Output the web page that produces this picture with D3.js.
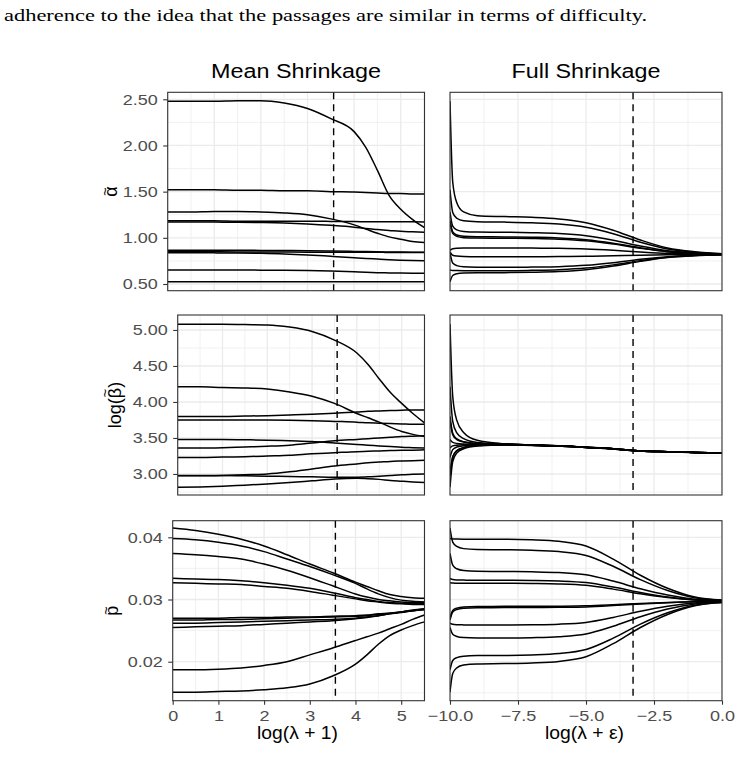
<!DOCTYPE html>
<html>
<head>
<meta charset="utf-8">
<script src="https://cdn.jsdelivr.net/npm/d3@7"></script>
<style>
  body { margin: 0; background: #fff; }
  text { font-family: "Liberation Sans", Arial, Helvetica, sans-serif; }
</style>
</head>
<body>
<div id="chart"></div>
<script>
// Canvas
const WIDTH = 737, HEIGHT = 758;
const STRETCH = 1.2; // the figure's text is a bit wider than the plain font

// x grids (read positions) for the two columns
const xMean = [0, 0.5, 1, 1.5, 2, 2.5, 3, 3.5, 4, 4.25, 4.5, 4.75, 5, 5.25, 5.51];
const xFull = [-10, -9.9, -9.75, -9.5, -9, -8, -7, -6, -5, -4, -3, -2, -1, 0];

// chosen lambda (dashed lines)
const cutMean = 3.56;
const cutFull = -3.27;

// tick values
const meanTicks = [0, 1, 2, 3, 4, 5];
const fullTicks = [-10, -7.5, -5, -2.5, 0];
const alphaTicks = [0.5, 1, 1.5, 2, 2.5];
const betaTicks = [3, 3.5, 4, 4.5, 5];
const pTicks = [0.02, 0.03, 0.04];

// alpha, mean shrinkage
const alphaMean = [
  [2.48, 2.48, 2.48, 2.485, 2.485, 2.46, 2.40, 2.29, 2.15, 1.98, 1.73, 1.46, 1.31, 1.20, 1.11],
  [1.52, 1.52, 1.52, 1.515, 1.515, 1.51, 1.51, 1.50, 1.495, 1.49, 1.485, 1.48, 1.48, 1.475, 1.475],
  [1.28, 1.28, 1.285, 1.285, 1.28, 1.27, 1.25, 1.205, 1.14, 1.095, 1.05, 1.01, 0.985, 0.96, 0.95],
  [1.185, 1.185, 1.185, 1.18, 1.18, 1.18, 1.18, 1.178, 1.176, 1.175, 1.175, 1.174, 1.173, 1.173, 1.172],
  [1.17, 1.17, 1.17, 1.168, 1.165, 1.16, 1.15, 1.135, 1.115, 1.10, 1.09, 1.08, 1.07, 1.065, 1.06],
  [0.865, 0.865, 0.865, 0.865, 0.864, 0.862, 0.86, 0.857, 0.853, 0.851, 0.849, 0.847, 0.846, 0.845, 0.845],
  [0.848, 0.848, 0.848, 0.847, 0.847, 0.846, 0.845, 0.845, 0.844, 0.843, 0.843, 0.842, 0.842, 0.841, 0.841],
  [0.838, 0.838, 0.837, 0.835, 0.832, 0.826, 0.815, 0.80, 0.785, 0.777, 0.77, 0.763, 0.758, 0.754, 0.751],
  [0.652, 0.652, 0.652, 0.651, 0.65, 0.648, 0.645, 0.64, 0.632, 0.627, 0.623, 0.62, 0.618, 0.617, 0.616],
  [0.525, 0.525, 0.525, 0.525, 0.525, 0.525, 0.525, 0.525, 0.524, 0.524, 0.524, 0.524, 0.524, 0.524, 0.524]
];

// alpha, full shrinkage
const alphaFull = [
  [2.48, 1.605, 1.38, 1.28, 1.24, 1.23, 1.222, 1.205, 1.164, 1.082, 0.976, 0.89, 0.849, 0.828],
  [1.52, 1.275, 1.212, 1.184, 1.174, 1.17, 1.163, 1.149, 1.114, 1.044, 0.953, 0.88, 0.845, 0.827],
  [1.28, 1.126, 1.086, 1.069, 1.062, 1.06, 1.055, 1.046, 1.022, 0.974, 0.911, 0.861, 0.837, 0.825],
  [1.185, 1.063, 1.031, 1.017, 1.012, 1.01, 1.006, 0.999, 0.98, 0.942, 0.892, 0.852, 0.833, 0.824],
  [1.17, 1.048, 1.016, 1.002, 0.997, 0.995, 0.992, 0.985, 0.967, 0.932, 0.887, 0.85, 0.832, 0.824],
  [0.865, 0.882, 0.887, 0.889, 0.89, 0.89, 0.889, 0.886, 0.879, 0.865, 0.847, 0.832, 0.825, 0.821],
  [0.848, 0.811, 0.802, 0.798, 0.796, 0.796, 0.796, 0.797, 0.80, 0.805, 0.811, 0.816, 0.818, 0.82],
  [0.838, 0.727, 0.699, 0.686, 0.682, 0.68, 0.683, 0.688, 0.702, 0.73, 0.767, 0.796, 0.81, 0.817],
  [0.652, 0.646, 0.645, 0.644, 0.644, 0.644, 0.648, 0.655, 0.672, 0.707, 0.753, 0.79, 0.808, 0.816],
  [0.525, 0.592, 0.611, 0.619, 0.622, 0.623, 0.627, 0.635, 0.655, 0.694, 0.745, 0.786, 0.806, 0.816]
];

// log(beta), mean shrinkage
const betaMean = [
  [5.08, 5.08, 5.08, 5.075, 5.07, 5.04, 4.98, 4.86, 4.68, 4.52, 4.32, 4.13, 3.98, 3.84, 3.71],
  [4.21, 4.21, 4.20, 4.195, 4.18, 4.14, 4.08, 3.98, 3.84, 3.78, 3.72, 3.65, 3.59, 3.55, 3.52],
  [3.80, 3.80, 3.80, 3.805, 3.81, 3.82, 3.83, 3.845, 3.86, 3.87, 3.875, 3.88, 3.885, 3.89, 3.89],
  [3.75, 3.75, 3.75, 3.75, 3.748, 3.745, 3.74, 3.73, 3.72, 3.71, 3.705, 3.70, 3.695, 3.69, 3.69],
  [3.48, 3.48, 3.48, 3.475, 3.47, 3.46, 3.45, 3.43, 3.41, 3.40, 3.39, 3.38, 3.37, 3.365, 3.36],
  [3.36, 3.36, 3.365, 3.375, 3.385, 3.40, 3.43, 3.46, 3.48, 3.49, 3.50, 3.51, 3.52, 3.525, 3.53],
  [3.23, 3.23, 3.235, 3.24, 3.25, 3.26, 3.28, 3.295, 3.31, 3.315, 3.32, 3.325, 3.33, 3.33, 3.335],
  [2.975, 2.975, 2.98, 2.99, 3.00, 3.03, 3.07, 3.11, 3.14, 3.155, 3.165, 3.175, 3.18, 3.185, 3.19],
  [2.98, 2.98, 2.98, 2.975, 2.97, 2.965, 2.96, 2.955, 2.955, 2.96, 2.97, 2.98, 2.99, 2.995, 3.0],
  [2.815, 2.82, 2.83, 2.845, 2.86, 2.88, 2.905, 2.93, 2.94, 2.935, 2.925, 2.91, 2.90, 2.89, 2.88]
];

// log(beta), full shrinkage
const betaFull = [
  [5.08, 4.08, 3.744, 3.577, 3.468, 3.42, 3.404, 3.392, 3.372, 3.351, 3.321, 3.31, 3.30, 3.29],
  [4.21, 3.73, 3.57, 3.49, 3.438, 3.418, 3.403, 3.392, 3.371, 3.351, 3.321, 3.31, 3.30, 3.29],
  [3.80, 3.566, 3.488, 3.449, 3.424, 3.414, 3.402, 3.391, 3.371, 3.35, 3.32, 3.31, 3.30, 3.29],
  [3.75, 3.546, 3.478, 3.444, 3.422, 3.413, 3.402, 3.391, 3.37, 3.35, 3.32, 3.31, 3.30, 3.29],
  [3.48, 3.438, 3.424, 3.417, 3.412, 3.41, 3.40, 3.39, 3.37, 3.35, 3.32, 3.31, 3.30, 3.29],
  [3.36, 3.39, 3.40, 3.405, 3.408, 3.41, 3.40, 3.39, 3.37, 3.35, 3.32, 3.31, 3.30, 3.29],
  [3.23, 3.338, 3.374, 3.392, 3.404, 3.408, 3.399, 3.389, 3.369, 3.349, 3.319, 3.309, 3.299, 3.289],
  [2.975, 3.236, 3.323, 3.366, 3.395, 3.406, 3.398, 3.389, 3.369, 3.349, 3.319, 3.309, 3.299, 3.289],
  [2.98, 3.238, 3.324, 3.367, 3.395, 3.406, 3.398, 3.388, 3.368, 3.348, 3.318, 3.308, 3.298, 3.288],
  [2.815, 3.172, 3.291, 3.35, 3.389, 3.404, 3.397, 3.388, 3.368, 3.348, 3.318, 3.308, 3.298, 3.288]
];

// p, mean shrinkage
const pMean = [
  [.0415, .0411, .0405, .0397, .0386, .0372, .0357, .0343, .0328, .0321, .0314, .0308, .0305, .0303, .0302],
  [.0398, .0396, .0392, .0386, .0377, .0365, .0353, .0340, .0326, .0317, .0309, .0303, .0299, .0297, .0296],
  [.0374, .0372, .0369, .0365, .0357, .0347, .0335, .0322, .0309, .0304, .0300, .0298, .0296, .0295, .0295],
  [.0334, .0333, .0332, .0330, .0327, .0323, .0318, .0311, .0303, .0300, .0297, .0295, .0294, .0293, .0293],
  [.0327, .0326, .0325, .0324, .0321, .0318, .0313, .0307, .0301, .0298, .0296, .0294, .0293, .0292, .0292],
  [.0270, .0270, .0270, .0271, .0271, .0272, .0272, .0273, .0274, .0275, .0277, .0278, .0280, .0282, .0284],
  [.0267, .0267, .0268, .0268, .0269, .0270, .0271, .0272, .0273, .0274, .0276, .0278, .0280, .0282, .0284],
  [.0262, .0262, .0263, .0264, .0265, .0266, .0267, .0268, .0270, .0272, .0274, .0277, .0279, .0282, .0284],
  [.0255, .0256, .0257, .0258, .0260, .0262, .0264, .0266, .0269, .0271, .0274, .0277, .0280, .0283, .0285],
  [.0187, .0187, .0188, .0190, .0194, .0200, .0211, .0222, .0234, .0240, .0246, .0253, .0260, .0268, .0275],
  [.0151, .0151, .0152, .0153, .0155, .0158, .0164, .0177, .0196, .0211, .0228, .0242, .0251, .0258, .0264]
];

// p, full shrinkage
const pFull = [
  [.0415, .03923, .03853, .03818, .03804, .0380, .03792, .03771, .03709, .03534, .03319, .03144, .03028, .02987],
  [.0398, .03974, .03972, .0397, .0397, .0397, .0396, .03935, .0386, .0365, .0339, .0318, .0304, .0299],
  [.0374, .03552, .03494, .03465, .03453, .0345, .03445, .03433, .03397, .03296, .03172, .03071, .03004, .0298],
  [.0334, .03321, .03315, .03312, .0331, .0331, .03307, .03298, .03273, .03201, .03113, .03041, .02994, .02977],
  [.0327, .03264, .03262, .0326, .0326, .0326, .03257, .0325, .03228, .03167, .03092, .03031, .0299, .02976],
  [.0270, .02824, .02862, .02881, .02888, .0289, .02891, .02893, .02899, .02916, .02936, .02953, .02964, .02968],
  [.0267, .0280, .0284, .0286, .02868, .0287, .02871, .02874, .02881, .02902, .02928, .02949, .02963, .02968],
  [.0262, .02601, .02595, .02592, .0259, .0259, .02594, .02603, .02632, .02712, .0281, .0289, .02943, .02962],
  [.0255, .0244, .02406, .02389, .02382, .0238, .02386, .02401, .02445, .02569, .02722, .02846, .02929, .02958],
  [.0187, .0202, .02066, .02089, .02098, .021, .02109, .0213, .02196, .02378, .02605, .02787, .02909, .02953],
  [.0151, .01809, .01901, .01947, .01965, .0197, .0198, .02005, .0208, .0229, .0255, .0276, .029, .0295]
];

// layout of the three rows (pixel boxes measured from the figure)
// label: [text before, letter under the tilde, text after, tilde lift]
const rows = [
  { top: 92.3, bottom: 290.7, left: 167.7, domain: [0.4274, 2.5758], ticks: alphaTicks, label: ["", "\u03B1", "", 7.5], labelX: 117, mean: alphaMean, full: alphaFull },
  { top: 315, bottom: 495, left: 177.7, domain: [2.708, 5.208], ticks: betaTicks, label: ["log(", "\u03B2", ")", 11.5], labelX: 121, mean: betaMean, full: betaFull },
  { top: 520.7, bottom: 700.7, left: 172.7, domain: [0.01373, 0.04267], ticks: pTicks, label: ["", "p", "", 7.5], labelX: 118, mean: pMean, full: pFull }
];
const MEAN_RIGHT = 424.5, FULL_LEFT = 450, FULL_RIGHT = 722;

const svg = d3.select("#chart").append("svg")
  .attr("width", WIDTH).attr("height", HEIGHT)
  .style("background", "#fff");
const defs = svg.append("defs");

function stretch(sel, k) {
  sel.each(function () {
    const len = this.getComputedTextLength();
    d3.select(this).attr("textLength", len * k).attr("lengthAdjust", "spacingAndGlyphs");
  });
}

// running text above the figure
svg.append("text")
  .attr("x", 4).attr("y", 21)
  .style("font-family", '"Liberation Serif", "DejaVu Serif", serif')
  .attr("font-size", 17.5)
  .attr("textLength", 643).attr("lengthAdjust", "spacingAndGlyphs")
  .text("adherence to the idea that the passages are similar in terms of difficulty.");

// column titles
svg.append("text").attr("x", 296).attr("y", 77.5).attr("text-anchor", "middle")
  .attr("font-size", 19.5).attr("textLength", 170).attr("lengthAdjust", "spacingAndGlyphs").text("Mean Shrinkage");
svg.append("text").attr("x", 586).attr("y", 77.5).attr("text-anchor", "middle")
  .attr("font-size", 19.5).attr("textLength", 149).attr("lengthAdjust", "spacingAndGlyphs").text("Full Shrinkage");

function minorOf(ticks, domain) {
  const step = ticks[1] - ticks[0];
  const out = [];
  for (let v = ticks[0] - step / 2; v <= domain[1] + 1e-9; v += step) {
    if (v >= domain[0] - 1e-9) out.push(v);
  }
  return out;
}

let clipId = 0;
function drawPanel(x, y, xs, series, xTicks, yTicks, cut) {
  const [x0, x1] = x.range();
  const [y0, y1] = y.range();
  const g = svg.append("g");
  const id = "clip" + (clipId++);
  defs.append("clipPath").attr("id", id).append("rect")
    .attr("x", x0).attr("y", y1).attr("width", x1 - x0).attr("height", y0 - y1);

  // grid, minor then major
  const grid = g.append("g").attr("stroke", "#EBEBEB").attr("clip-path", `url(#${id})`);
  grid.selectAll(".vmin").data(minorOf(xTicks, x.domain())).join("line").attr("class", "vmin")
    .attr("x1", d => x(d)).attr("x2", d => x(d)).attr("y1", y1).attr("y2", y0).attr("stroke-width", 0.7);
  grid.selectAll(".hmin").data(minorOf(yTicks, y.domain())).join("line").attr("class", "hmin")
    .attr("y1", d => y(d)).attr("y2", d => y(d)).attr("x1", x0).attr("x2", x1).attr("stroke-width", 0.7);
  grid.selectAll(".vmaj").data(xTicks).join("line").attr("class", "vmaj")
    .attr("x1", d => x(d)).attr("x2", d => x(d)).attr("y1", y1).attr("y2", y0).attr("stroke-width", 1.3);
  grid.selectAll(".hmaj").data(yTicks).join("line").attr("class", "hmaj")
    .attr("y1", d => y(d)).attr("y2", d => y(d)).attr("x1", x0).attr("x2", x1).attr("stroke-width", 1.3);

  // lines
  const line = d3.line().curve(d3.curveMonotoneX).x((d, i) => x(xs[i])).y(d => y(d));
  g.append("g").attr("clip-path", `url(#${id})`)
    .selectAll("path").data(series).join("path")
    .attr("d", line).attr("fill", "none").attr("stroke", "#000").attr("stroke-width", 1.5);

  // chosen lambda
  g.append("line").attr("x1", x(cut)).attr("x2", x(cut)).attr("y1", y1).attr("y2", y0)
    .attr("stroke", "#000").attr("stroke-width", 1.4).attr("stroke-dasharray", "7,5");

  // border
  g.append("rect").attr("x", x0).attr("y", y1).attr("width", x1 - x0).attr("height", y0 - y1)
    .attr("fill", "none").attr("stroke", "#333").attr("stroke-width", 1.1);
  return g;
}

function styleAxis(sel) {
  sel.select(".domain").remove();
  sel.selectAll(".tick line").attr("stroke", "#333").attr("stroke-width", 1.1);
  sel.selectAll(".tick text").attr("fill", "#4D4D4D").attr("font-size", 15)
    .style("font-family", '"Liberation Sans", Arial, sans-serif')
    .call(stretch, STRETCH);
}

function yTitle(r) {
  const [pre, base, post, lift] = r.label;
  const g = svg.append("g")
    .attr("transform", `translate(${r.labelX},${(r.top + r.bottom) / 2}) rotate(-90)`);
  const t = g.append("text").attr("text-anchor", "middle").attr("font-size", 18).attr("fill", "#000")
    .text(pre + base + post);
  const box = t.node().getExtentOfChar(pre.length);
  g.append("text").attr("text-anchor", "middle").attr("font-size", 15).attr("fill", "#000")
    .attr("x", box.x + box.width / 2).attr("y", -lift)
    .text("~");
}

rows.forEach((r, ri) => {
  const y = d3.scaleLinear().domain(r.domain).range([r.bottom, r.top]);
  const xm = d3.scaleLinear().domain([0, 5.51]).range([r.left, MEAN_RIGHT]);
  const xf = d3.scaleLinear().domain([-10, 0]).range([FULL_LEFT, FULL_RIGHT]);

  drawPanel(xm, y, xMean, r.mean, meanTicks, r.ticks, cutMean);
  drawPanel(xf, y, xFull, r.full, fullTicks, r.ticks, cutFull);

  // y axis
  svg.append("g").attr("transform", `translate(${r.left},0)`)
    .call(d3.axisLeft(y).tickValues(r.ticks).tickFormat(d3.format(".2f")).tickSize(4.5).tickPadding(5.5))
    .call(styleAxis);

  yTitle(r);

  if (ri === rows.length - 1) {
    svg.append("g").attr("transform", `translate(0,${r.bottom})`)
      .call(d3.axisBottom(xm).tickValues(meanTicks).tickFormat(d3.format("d")).tickSize(4).tickPadding(5.3))
      .call(styleAxis);
    svg.append("g").attr("transform", `translate(0,${r.bottom})`)
      .call(d3.axisBottom(xf).tickValues(fullTicks).tickFormat(d3.format(".1f")).tickSize(4).tickPadding(5.3))
      .call(styleAxis);

    svg.append("text").attr("x", 297.5).attr("y", 739)
      .attr("text-anchor", "middle").attr("font-size", 18)
      .attr("textLength", 81).attr("lengthAdjust", "spacingAndGlyphs").text("log(\u03BB + 1)");
    svg.append("text").attr("x", 584.5).attr("y", 739)
      .attr("text-anchor", "middle").attr("font-size", 18)
      .attr("textLength", 79).attr("lengthAdjust", "spacingAndGlyphs").text("log(\u03BB + \u03B5)");
  }
});
</script>
</body>
</html>
